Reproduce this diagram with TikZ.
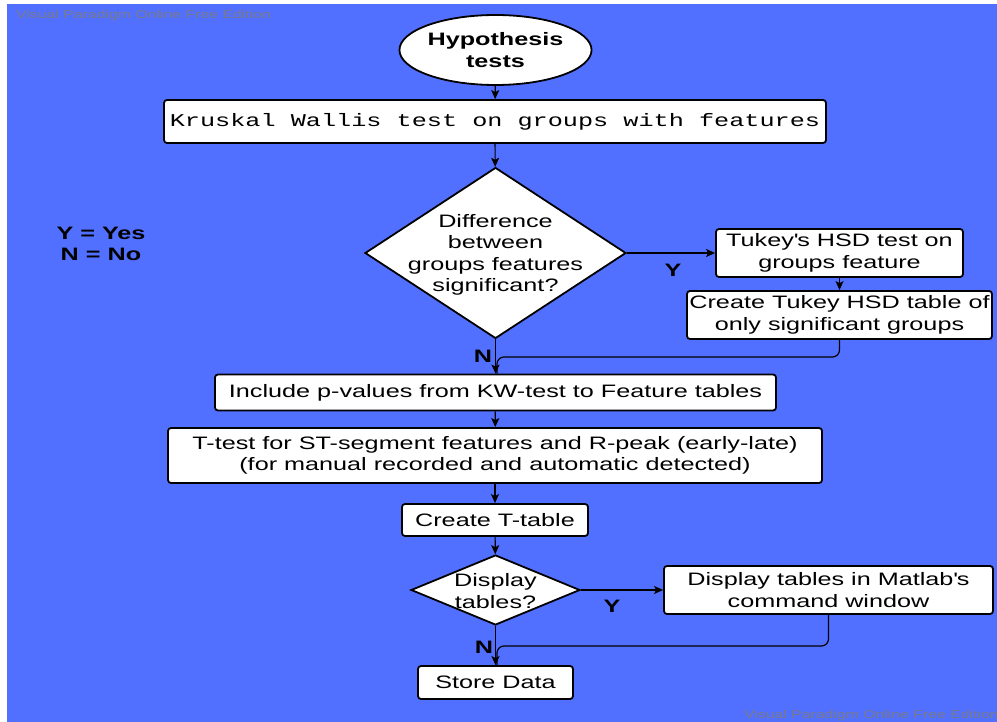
\documentclass[tikz,border=0pt]{standalone}
\usepackage{fontspec}
\setmainfont[FakeStretch=1.4]{Liberation Sans}
\newfontfamily\boxmono[FakeStretch=1.4]{Liberation Mono}
\usetikzlibrary{shapes.geometric,arrows.meta}
\definecolor{canvas}{RGB}{82,112,255}
\definecolor{wmark}{RGB}{122,122,135}
\begin{document}
\begin{tikzpicture}[x=1pt,y=-1pt,
  base/.style={draw=black,line width=1.8pt,fill=white,inner sep=0pt,
    font=\fontsize{18}{21.5}\selectfont,align=center},
  stepbox/.style={base,rectangle,rounded corners=3pt},
  terminal/.style={base,ellipse},
  decision/.style={base,diamond},
  flow/.style={line width=1.2pt,-{Stealth[length=9pt,width=8pt,inset=2pt]}},
  link/.style={line width=1.2pt,rounded corners=7pt},
  tag/.style={font=\bfseries\fontsize{18}{21.5}\selectfont},
  wm/.style={text=wmark,font=\fontsize{11.3}{13}\selectfont,inner sep=0pt}]

% canvas
\useasboundingbox (0,0) rectangle (997,722);
\fill[canvas] (7,4) rectangle (997,722);

% watermarks
\node[wm,anchor=west] (wmtop) at (16,16) {Visual Paradigm Online Free Edition};
\node[wm,anchor=east] (wmbot) at (999,716) {Visual Paradigm Online Free Edition};

% legend
\node[tag,align=center] (legend) at (101,244) {Y = Yes\\N = No};

% nodes
\node[terminal,minimum width=184,minimum height=70,font=\bfseries\fontsize{18}{21.5}\selectfont] (start) at (495.5,50) {Hypothesis\\tests};
\node[stepbox,minimum width=662,minimum height=43,font=\boxmono\fontsize{18}{21.5}\selectfont] (kw) at (495,121.5) {Kruskal Wallis test on groups with features};
\node[decision,minimum width=261,minimum height=171] (d1) at (495.5,253) {};
\node[align=center,font=\fontsize{18}{21.5}\selectfont] (d1text) at (495.5,255) {Difference\\between\\groups features\\significant?};
\node[stepbox,minimum width=247,minimum height=48] (tukey) at (839.5,253) {Tukey\textquotesingle s HSD test on\\groups feature};
\node[stepbox,minimum width=305,minimum height=48] (ctukey) at (839.5,315) {Create Tukey HSD table of\\only significant groups};
\node[stepbox,minimum width=561,minimum height=36] (include) at (495.5,392.5) {Include p-values from KW-test to Feature tables};
\node[stepbox,minimum width=654,minimum height=55] (ttest) at (495,455.5) {T-test for ST-segment features and R-peak (early-late)\\(for manual recorded and automatic detected)};
\node[stepbox,minimum width=186,minimum height=32] (ctable) at (495,520) {Create T-table};
\node[decision,minimum width=169,minimum height=70] (d2) at (495.5,590) {};
\node[align=center,font=\fontsize{18}{21.5}\selectfont] (d2text) at (495.5,591) {Display\\tables?};
\node[stepbox,minimum width=329,minimum height=48] (display) at (828.5,590) {Display tables in Matlab\textquotesingle s\\command window};
\node[stepbox,minimum width=155,minimum height=33] (store) at (495.5,682.5) {Store Data};

% edge labels
\node[tag] (y1) at (673,270) {Y};
\node[tag] (n1) at (483,356) {N};
\node[tag] (y2) at (612,606) {Y};
\node[tag] (n2) at (484,647) {N};

% merge points
\coordinate (m1) at (497,357);
\coordinate (m2) at (497,646);

% connectors
\draw[flow] (start) -- (kw);
\draw[flow] (kw) -- (d1);
\draw[flow] (d1.east) -- (tukey.west);
\draw[flow] (tukey) -- (ctukey);
\draw[flow] (d1.south) -- (include.north);
\draw[link] (ctukey.south) |- (m1) -- (m1 |- include.north);
\draw[flow] (include) -- (ttest);
\draw[flow] (ttest) -- (ctable);
\draw[flow] (ctable) -- (d2);
\draw[flow] (d2.east) -- (display.west);
\draw[flow] (d2.south) -- (store.north);
\draw[link] (display.south) |- (m2) -- (m2 |- store.north);
\end{tikzpicture}
\end{document}
